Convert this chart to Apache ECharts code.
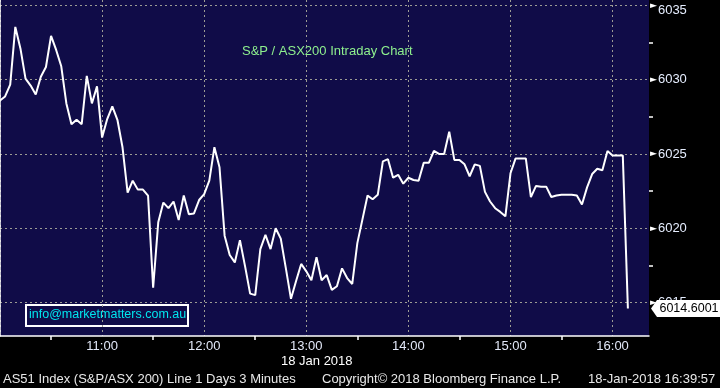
<!DOCTYPE html>
<html><head><meta charset="utf-8">
<script src="https://cdn.jsdelivr.net/npm/echarts@6/dist/echarts.min.js"></script>
<style>html,body{margin:0;padding:0;background:#000;}#c{width:720px;height:388px;}</style>
</head><body><div id="c"></div>
<script>
// ---- data ----
const chartTitle = 'S&P / ASX200 Intraday Chart';
const barMinutes = 3;           // 3-minute bars starting 10:00
const sessionStartHour = 10;
const prices = [
  6028.6, 6028.87, 6029.66, 6033.55, 6032.1, 6030.07, 6029.6, 6029.0, 6030.2, 6030.85,
  6032.95, 6032.0, 6030.9, 6028.4, 6027.0, 6027.3, 6027.0, 6030.25, 6028.4, 6029.55,
  6026.1, 6027.35, 6028.2, 6027.3, 6025.45, 6022.4, 6023.2, 6022.6, 6022.6, 6022.2,
  6016.0, 6020.4, 6021.73, 6021.35, 6021.8, 6020.56, 6022.2, 6020.95, 6021.0, 6021.9,
  6022.3, 6023.2, 6025.45, 6024.1, 6019.5, 6018.2, 6017.7, 6019.2, 6017.45, 6015.6,
  6015.5, 6018.6, 6019.55, 6018.6, 6020.0, 6019.3, 6017.3, 6015.25, 6016.45, 6017.6,
  6017.1, 6016.5, 6018.05, 6016.5, 6016.85, 6015.85, 6016.1, 6017.3, 6016.65, 6016.25,
  6019.0, 6020.6, 6022.2, 6021.95, 6022.25, 6024.5, 6024.65, 6023.4, 6023.6, 6023.0,
  6023.4, 6023.25, 6023.2, 6024.4, 6024.4, 6025.2, 6025.0, 6025.0, 6026.5, 6024.6,
  6024.6, 6024.3, 6023.5, 6024.3, 6024.2, 6022.45, 6021.8, 6021.35, 6021.1, 6020.8,
  6023.7, 6024.7, 6024.7, 6024.7, 6022.1, 6022.85, 6022.8, 6022.8, 6022.1, 6022.2,
  6022.25, 6022.25, 6022.25, 6022.2, 6021.6, 6022.75, 6023.65, 6024.0, 6023.9, 6025.2,
  6024.9, 6024.9, 6024.9, 6014.6001
];
const lastPriceLabel = '6014.6001';
const xAxisEndMinutes = 381.4;       // 16:21
const yRange = [6012.75, 6035.36];
const yTickLabels = [6015, 6020, 6025, 6030, 6035];
const yMinorTicks = [6017.5, 6022.5, 6027.5, 6032.5];
const dateLabel = '18 Jan 2018';
const footerLeft = 'AS51 Index (S&P/ASX 200) Line 1 Days 3 Minutes';
const footerMid = 'Copyright\u00A9 2018 Bloomberg Finance L.P.';
const footerRight = '18-Jan-2018 16:39:57';
const contact = 'info@marketmatters.com.au';

// ---- chart ----
const seriesData = prices.map((v, i) => [i * barMinutes, v]);
const FONT = '"Liberation Sans", Arial, sans-serif';
const chart = echarts.init(document.getElementById('c'), null, {renderer: 'canvas'});
const gridDash = {color: '#9c9c94', width: 1, type: [2, 3]};
const topLabel = yTickLabels[yTickLabels.length - 1];
chart.setOption({
  backgroundColor: '#000000',
  animation: false,
  title: {
    text: chartTitle, left: 242, top: 45, padding: 0,
    textStyle: {color: '#8ef08e', fontSize: 13, fontWeight: 'normal', fontFamily: FONT}
  },
  grid: {left: 0, top: 0, width: 649, height: 336, show: true,
         backgroundColor: '#100c48', borderWidth: 0, containLabel: false},
  xAxis: {
    type: 'value', min: 0, max: xAxisEndMinutes, interval: 60,
    axisLine: {show: true, lineStyle: {color: '#ffffff', width: 1.5}},
    axisTick: {show: false, inside: false},
    minorTick: {show: true, splitNumber: 2, length: 4, lineStyle: {color: '#ffffff', width: 1.5}},
    splitLine: {show: true, showMinLine: true, showMaxLine: false, lineStyle: gridDash},
    minorSplitLine: {show: false},
    axisLabel: {
      color: '#e2e8f8', fontSize: 13, fontFamily: FONT, margin: 4,
      showMinLabel: false, showMaxLabel: false,
      formatter: v => (v % 60 === 0 && v > 0) ? (sessionStartHour + v / 60) + ':00' : ''
    }
  },
  yAxis: [{
    type: 'value', position: 'right', min: yRange[0], max: yRange[1], splitNumber: 5, scale: true,
    axisLine: {show: true, lineStyle: {color: '#ffffff', width: 1.5}},
    axisTick: {show: false},
    minorTick: {show: false},
    splitLine: {show: true, showMinLine: false, showMaxLine: false, lineStyle: gridDash},
    minorSplitLine: {show: false},
    axisLabel: {
      margin: 1, showMinLabel: false, showMaxLabel: false,
      formatter: v => yTickLabels.indexOf(v) < 0 ? '' :
        (v === topLabel ? '{p|\u25BA}{vt|' + v + '}' : '{p|\u25BA}{v|' + v + '}'),
      rich: {
        p: {color: '#ffffff', fontSize: 9, fontFamily: '"DejaVu Sans"', verticalAlign: 'middle'},
        v: {color: '#e6eeff', fontSize: 13, fontFamily: FONT, padding: [0, 0, 0, 1]},
        vt: {color: '#e6eeff', fontSize: 13, fontFamily: FONT, padding: [10, 0, 0, 1]}
      }
    }
  }, {
    type: 'value', position: 'right', min: yRange[0], max: yRange[1], scale: true,
    axisLine: {show: false},
    axisTick: {show: true, inside: false, length: 4, customValues: yMinorTicks,
               lineStyle: {color: '#ffffff', width: 1.5}},
    axisLabel: {show: false},
    splitLine: {show: false},
    minorTick: {show: false}
  }],
  series: [{
    type: 'line', data: seriesData, showSymbol: false, symbol: 'none', yAxisIndex: 0,
    lineStyle: {color: '#ffffff', width: 2}, clip: true,
    markPoint: {
      silent: true,
      symbol: 'path://M0,8.5 L6,0 L70,0 L70,17 L6,17 Z',
      symbolSize: [70, 17], symbolOffset: [37, 0],
      itemStyle: {color: '#ffffff'},
      label: {show: true, position: 'inside', offset: [3, 0], color: '#000000',
              fontSize: 12.5, fontFamily: FONT, formatter: lastPriceLabel},
      data: [{coord: [xAxisEndMinutes, prices[prices.length - 1]]}]
    }
  }],
  graphic: [
    {type: 'rect', left: 25, top: 304, shape: {width: 162, height: 21},
     style: {fill: 'transparent', stroke: '#ffffff', lineWidth: 2}},
    {type: 'text', left: 29, top: 308,
     style: {text: contact, fill: '#00e6ee', font: '12.5px ' + FONT}},
    {type: 'text', left: 281, top: 355,
     style: {text: dateLabel, fill: '#ffffff', font: '13px ' + FONT}},
    {type: 'text', left: 3, top: 373,
     style: {text: footerLeft, fill: '#e8e8e8', font: '13px ' + FONT}},
    {type: 'text', left: 322, top: 373,
     style: {text: footerMid, fill: '#e8e8e8', font: '13px ' + FONT}},
    {type: 'text', left: 588, top: 373,
     style: {text: footerRight, fill: '#e8e8e8', font: '13px ' + FONT}}
  ]
});
</script></body></html>
